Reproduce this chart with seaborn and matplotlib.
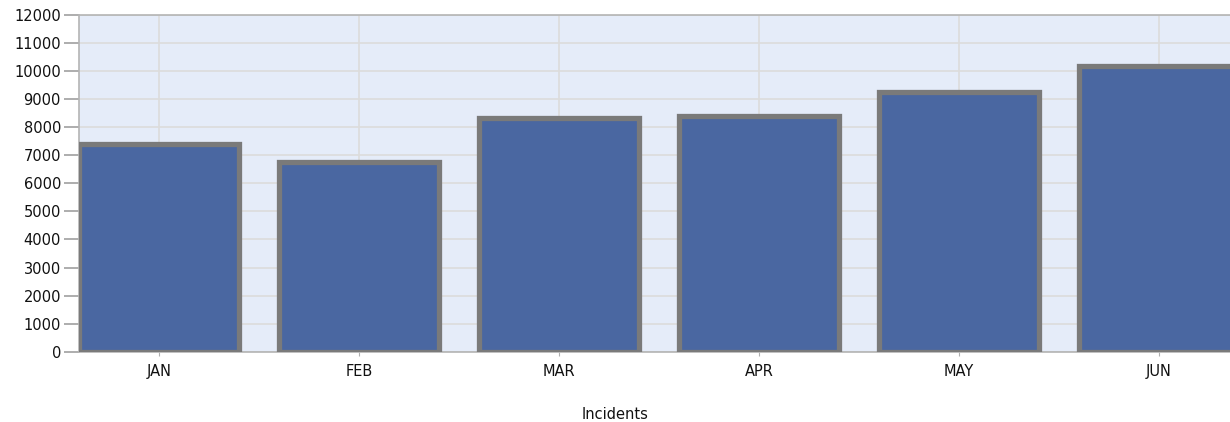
import numpy as np
import pandas as pd
import matplotlib
matplotlib.use("Agg")
import matplotlib.pyplot as plt
import seaborn as sns

# monthly incident counts
months = ["JAN", "FEB", "MAR", "APR", "MAY", "JUN"]
incidents = [7400, 6760, 8330, 8400, 9250, 10180]
y_ticks = list(range(0, 12001, 1000))

df = pd.DataFrame({"month": months, "incidents": incidents})

sns.set_style("white")
plt.rcParams["font.family"] = ["DejaVu Sans"]

fig = plt.figure(figsize=(12.3, 4.22), dpi=100)
ax = fig.add_axes([79 / 1230, 0.1666, 1 - 79 / 1230, 0.7979])
ax.set_facecolor("#e5ecf9")

sns.barplot(data=df, x="month", y="incidents", color="#4a67a1",
            saturation=1, width=0.8, edgecolor="#7a7a7a", linewidth=3.8,
            ax=ax, zorder=3)

ax.set_ylim(0, 12000)
ax.set_xlim(-0.4, 5.355)
ax.set_yticks(y_ticks)
ax.set_yticklabels([str(v) for v in y_ticks], fontsize=10.5, color="#111111")
ax.tick_params(axis="x", bottom=True, labelsize=10.5, colors="#111111",
               length=3, color="#b0b0b0", pad=6)
ax.tick_params(axis="y", left=True, length=11, color="#a0a0a0", width=1.2,
               pad=2)

ax.grid(True, color="#dcdcdc", linewidth=1.2, zorder=0)
ax.set_axisbelow(True)

for side in ["left", "bottom", "top"]:
    ax.spines[side].set_visible(True)
    ax.spines[side].set_color("#b4b4b4")
    ax.spines[side].set_linewidth(1.2)
ax.spines["right"].set_visible(False)

ax.set_ylabel("")
ax.set_xlabel("Incidents", fontsize=10.5, color="#111111")
ax.xaxis.set_label_coords((615 - 79) / (1230 - 79), -0.165)

fig.savefig("out.png", dpi=100)
